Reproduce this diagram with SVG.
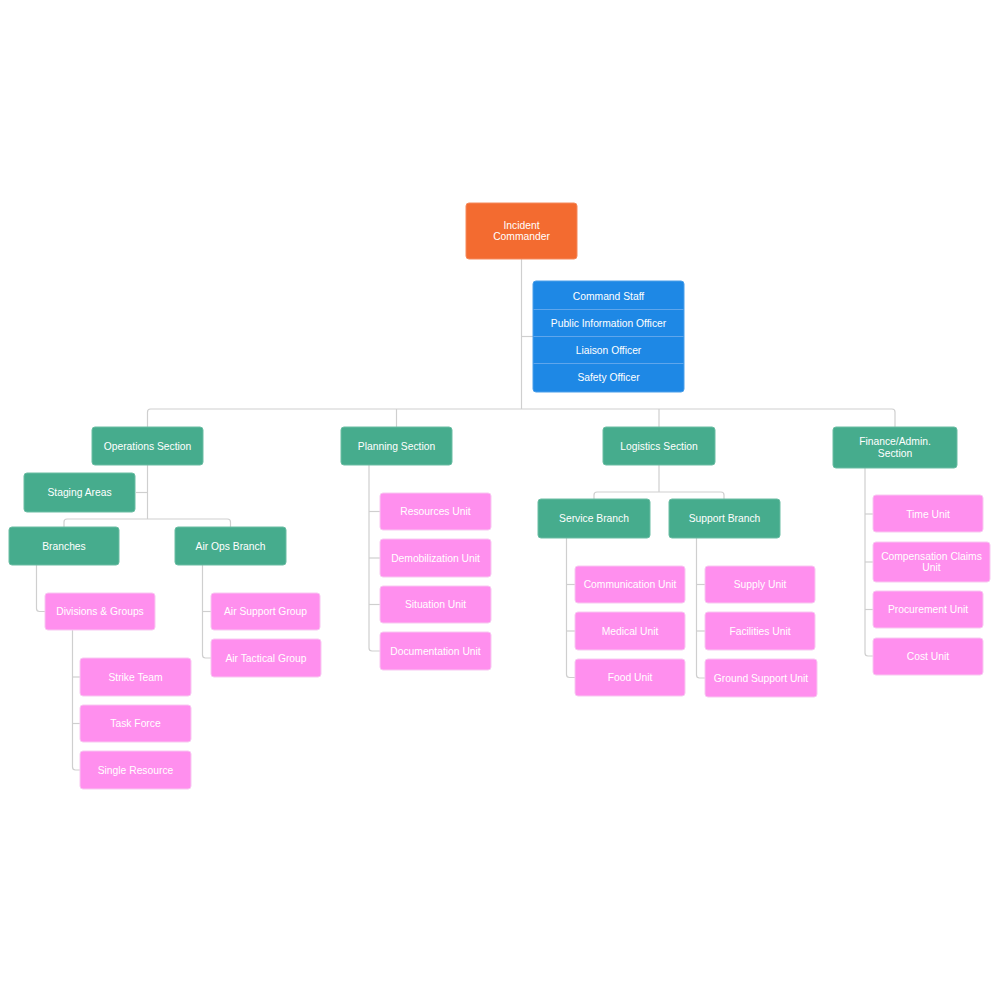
<svg xmlns="http://www.w3.org/2000/svg" width="1000" height="1000" viewBox="0 0 1000 1000">
<style>
text{font-family:"Liberation Sans",Arial,sans-serif;font-size:10.3px;fill:#fff;text-anchor:middle;dominant-baseline:central}
.ic{fill:#F36B30;stroke:#F58A5C;stroke-width:1}
.cs{fill:#1E88E5;stroke:#4B9FEA;stroke-width:1}
.sec{fill:#46AC8D;stroke:#6BBDA3;stroke-width:1}
.unit{fill:#FF8FEE;stroke:#F8C8F1;stroke-width:1}
.div{stroke:#5FA6EC;stroke-width:1}
#connectors path{fill:none;stroke:#CFCFCF;stroke-width:1.2}
</style>
<rect width="1000" height="1000" fill="#fff"/>
<g id="connectors">
<path d="M521.5,259 V409"/>
<path d="M521.5,336.5 H533"/>
<path d="M147.5,427 V412 Q147.5,409 150.5,409 H892 Q895,409 895,412 V427"/>
<path d="M396.5,409 V427"/>
<path d="M659,409 V427"/>
<path d="M147.5,465 V519"/>
<path d="M136,492.5 H147.5"/>
<path d="M64,527 V522 Q64,519 67,519 H227.5 Q230.5,519 230.5,522 V527"/>
<path d="M36.5,565 V608.5 Q36.5,611.5 39.5,611.5 H45"/>
<path d="M202.5,565 V655 Q202.5,658 205.5,658 H211"/>
<path d="M202.5,611.5 H211"/>
<path d="M72.5,630 V767 Q72.5,770 75.5,770 H80"/>
<path d="M72.5,677 H80"/>
<path d="M72.5,723.5 H80"/>
<path d="M369,465 V648 Q369,651 372,651 H380"/>
<path d="M369,511.5 H380"/>
<path d="M369,558 H380"/>
<path d="M369,604.5 H380"/>
<path d="M659,465 V492"/>
<path d="M594,499 V495 Q594,492 597,492 H721 Q724,492 724,495 V499"/>
<path d="M566.5,538 V674.5 Q566.5,677.5 569.5,677.5 H575"/>
<path d="M566.5,584.5 H575"/>
<path d="M566.5,631 H575"/>
<path d="M696.5,538 V675 Q696.5,678 699.5,678 H705"/>
<path d="M696.5,584.5 H705"/>
<path d="M696.5,631 H705"/>
<path d="M865,468 V653 Q865,656 868,656 H873"/>
<path d="M865,514 H873"/>
<path d="M865,562 H873"/>
<path d="M865,609.5 H873"/>
</g>
<g id="incident-commander"><rect class="ic" x="466" y="203" width="111" height="56" rx="3"/><text x="521.5" y="225.5">Incident</text><text x="521.5" y="236.5">Commander</text></g>
<g id="command-staff">
<rect class="cs" x="533" y="281" width="151" height="111" rx="3"/>
<line class="div" x1="533.5" y1="309.5" x2="683.5" y2="309.5"/>
<line class="div" x1="533.5" y1="336.5" x2="683.5" y2="336.5"/>
<line class="div" x1="533.5" y1="363.5" x2="683.5" y2="363.5"/>
<text x="608.5" y="296">Command Staff</text>
<text x="608.5" y="323">Public Information Officer</text>
<text x="608.5" y="350">Liaison Officer</text>
<text x="608.5" y="377">Safety Officer</text>
</g>
<g id="operations-section"><rect class="sec" x="92" y="427" width="111" height="38" rx="3"/><text x="147.5" y="446">Operations Section</text></g>
<g id="staging-areas"><rect class="sec" x="24" y="473" width="111" height="39" rx="3"/><text x="79.5" y="492.5">Staging Areas</text></g>
<g id="branches"><rect class="sec" x="9" y="527" width="110" height="38" rx="3"/><text x="64" y="546">Branches</text></g>
<g id="air-ops-branch"><rect class="sec" x="175" y="527" width="111" height="38" rx="3"/><text x="230.5" y="546">Air Ops Branch</text></g>
<g id="divisions-groups"><rect class="unit" x="45" y="593" width="110" height="37" rx="3"/><text x="100" y="611.5">Divisions &amp; Groups</text></g>
<g id="air-support-group"><rect class="unit" x="211" y="593" width="109" height="37" rx="3"/><text x="265.5" y="611.5">Air Support Group</text></g>
<g id="air-tactical-group"><rect class="unit" x="211" y="639" width="110" height="38" rx="3"/><text x="266" y="658">Air Tactical Group</text></g>
<g id="strike-team"><rect class="unit" x="80" y="658" width="111" height="38" rx="3"/><text x="135.5" y="677">Strike Team</text></g>
<g id="task-force"><rect class="unit" x="80" y="705" width="111" height="37" rx="3"/><text x="135.5" y="723.5">Task Force</text></g>
<g id="single-resource"><rect class="unit" x="80" y="751" width="111" height="38" rx="3"/><text x="135.5" y="770">Single Resource</text></g>
<g id="planning-section"><rect class="sec" x="341" y="427" width="111" height="38" rx="3"/><text x="396.5" y="446">Planning Section</text></g>
<g id="resources-unit"><rect class="unit" x="380" y="493" width="111" height="37" rx="3"/><text x="435.5" y="511.5">Resources Unit</text></g>
<g id="demobilization-unit"><rect class="unit" x="380" y="539" width="111" height="38" rx="3"/><text x="435.5" y="558">Demobilization Unit</text></g>
<g id="situation-unit"><rect class="unit" x="380" y="586" width="111" height="37" rx="3"/><text x="435.5" y="604.5">Situation Unit</text></g>
<g id="documentation-unit"><rect class="unit" x="380" y="632" width="111" height="38" rx="3"/><text x="435.5" y="651">Documentation Unit</text></g>
<g id="logistics-section"><rect class="sec" x="603" y="427" width="112" height="38" rx="3"/><text x="659" y="446">Logistics Section</text></g>
<g id="service-branch"><rect class="sec" x="538" y="499" width="112" height="39" rx="3"/><text x="594" y="518.5">Service Branch</text></g>
<g id="support-branch"><rect class="sec" x="669" y="499" width="111" height="39" rx="3"/><text x="724.5" y="518.5">Support Branch</text></g>
<g id="communication-unit"><rect class="unit" x="575" y="566" width="110" height="37" rx="3"/><text x="630" y="584.5">Communication Unit</text></g>
<g id="medical-unit"><rect class="unit" x="575" y="612" width="110" height="38" rx="3"/><text x="630" y="631">Medical Unit</text></g>
<g id="food-unit"><rect class="unit" x="575" y="659" width="110" height="37" rx="3"/><text x="630" y="677.5">Food Unit</text></g>
<g id="supply-unit"><rect class="unit" x="705" y="566" width="110" height="37" rx="3"/><text x="760" y="584.5">Supply Unit</text></g>
<g id="facilities-unit"><rect class="unit" x="705" y="612" width="110" height="38" rx="3"/><text x="760" y="631">Facilities Unit</text></g>
<g id="ground-support-unit"><rect class="unit" x="705" y="659" width="112" height="38" rx="3"/><text x="761" y="678">Ground Support Unit</text></g>
<g id="finance-admin-section"><rect class="sec" x="833" y="427" width="124" height="41" rx="3"/><text x="895" y="441.5">Finance/Admin.</text><text x="895" y="453.5">Section</text></g>
<g id="time-unit"><rect class="unit" x="873" y="495" width="110" height="37" rx="3"/><text x="928" y="514">Time Unit</text></g>
<g id="compensation-claims-unit"><rect class="unit" x="873" y="542" width="117" height="40" rx="3"/><text x="931.5" y="556.5">Compensation Claims</text><text x="931.5" y="567.5">Unit</text></g>
<g id="procurement-unit"><rect class="unit" x="873" y="591" width="110" height="37" rx="3"/><text x="928" y="609.5">Procurement Unit</text></g>
<g id="cost-unit"><rect class="unit" x="873" y="638" width="110" height="37" rx="3"/><text x="928" y="656.5">Cost Unit</text></g>
</svg>
